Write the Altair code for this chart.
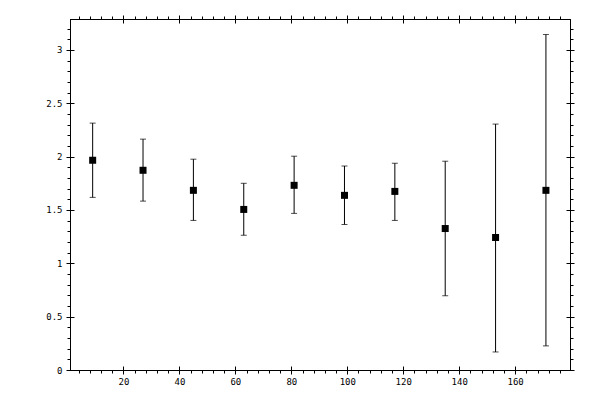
import altair as alt
import pandas as pd

x_vals = [9, 27, 45, 63, 81, 99, 117, 135, 153, 171]
y_vals = [1.966, 1.872, 1.684, 1.505, 1.731, 1.637, 1.674, 1.326, 1.242, 1.684]
y_low = [1.618, 1.583, 1.402, 1.263, 1.468, 1.364, 1.402, 0.696, 0.169, 0.226]
y_high = [2.314, 2.164, 1.976, 1.750, 2.004, 1.912, 1.938, 1.957, 2.305, 3.145]

x_major = [20, 40, 60, 80, 100, 120, 140, 160]
x_minor = list(range(4, 180, 4))
y_major = [0, 0.5, 1, 1.5, 2, 2.5, 3]
y_minor = [i / 10 for i in range(0, 33)]

data = pd.DataFrame({"x": x_vals, "y": y_vals, "lo": y_low, "hi": y_high})

font = "DejaVu Sans Mono"
W, H = 500, 351
x_dom = [0.9, 179.6]
y_dom = [0, 3.29]


def xs(axis):
    return alt.X("x:Q", scale=alt.Scale(domain=x_dom, nice=False, zero=False), axis=axis)


def ys(field, axis):
    return alt.Y(field + ":Q", scale=alt.Scale(domain=y_dom, nice=False), axis=axis)


def ax(values, orient, size=4, labels=False, offset=0, domain=True, **kw):
    # one set of ticks on one side of the frame
    return alt.Axis(values=values, orient=orient, title=None, labels=labels,
                    tickSize=size, tickColor="black", tickWidth=1, domain=domain,
                    domainColor="black", grid=False, offset=offset, **kw)


base = alt.Chart(data)

bars = base.mark_rule(color="black", strokeWidth=1).encode(
    x=xs(ax(x_major, "bottom", labels=True, labelFont=font, labelFontSize=9,
            labelColor="black", labelPadding=3)),
    y=ys("lo", ax(y_major, "left", labels=True, labelFont=font, labelFontSize=9,
                  labelColor="black", labelPadding=4, format="~g")),
    y2="hi:Q",
)

minor_axes = base.mark_rule(opacity=0).encode(
    x=xs(ax(x_minor, "bottom", size=3)),
    y=ys("lo", ax(y_minor, "left", size=3)),
)

top_right = base.mark_rule(opacity=0).encode(
    x=xs(ax(x_major, "top")),
    y=ys("lo", ax(y_major, "right")),
)

top_right_minor = base.mark_rule(opacity=0).encode(
    x=xs(ax(x_minor, "top", size=3)),
    y=ys("lo", ax(y_minor, "right", size=3)),
)

# inward halves of the major ticks: axes shifted across to the opposite edge
cap_lo = base.mark_tick(color="black", orient="horizontal", size=6, thickness=1).encode(
    x=xs(ax(x_major, "top", offset=-H, domain=False)),
    y=ys("lo", ax(y_major, "right", offset=-W, domain=False)),
)
cap_hi = base.mark_tick(color="black", orient="horizontal", size=6, thickness=1).encode(
    x=xs(ax(x_major, "bottom", offset=-H, domain=False)),
    y=ys("hi", ax(y_major, "left", offset=-W, domain=False)),
)

points = base.mark_square(color="black", filled=True, size=49, opacity=1).encode(
    x=xs(None), y=ys("y", None)
)

chart = (
    alt.layer(bars, minor_axes, top_right, top_right_minor, cap_lo, cap_hi, points)
    .resolve_axis(x="independent", y="independent")
    .properties(
        width=W,
        height=H,
        autosize="none",
        padding={"left": 62, "top": 11, "right": 22, "bottom": 22},
        background="white",
    )
    .configure_view(stroke="black", strokeWidth=1)
)

chart.save("out.html", embed_options={"renderer": "svg", "actions": False})
